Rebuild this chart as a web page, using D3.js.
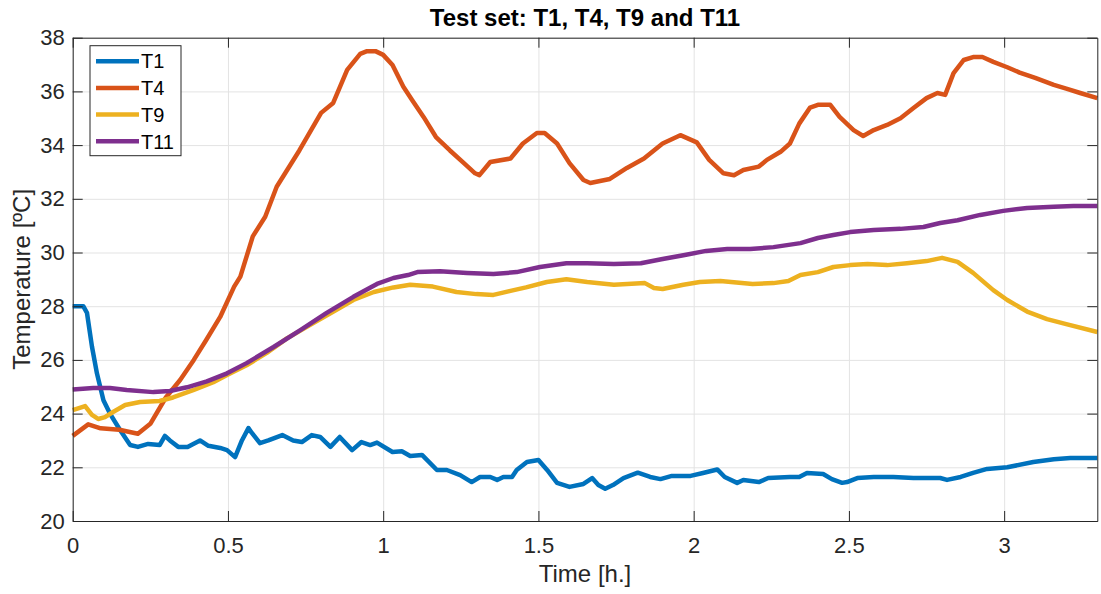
<!DOCTYPE html>
<html>
<head>
<meta charset="utf-8">
<script src="https://cdn.jsdelivr.net/npm/d3@7"></script>
<style>
  body { margin: 0; background: #fff; }
  svg { font-family: "Liberation Sans", Arial, sans-serif; }
  .grid line { stroke: #e3e3e3; stroke-width: 1; }
  .grid .domain { display: none; }
  .axis text { fill: #262626; font-size: 22px; }
  .axis line, .axis path { stroke: #262626; }
</style>
</head>
<body>
<div id="chart"></div>
<script>
// series: time [h.] and temperature [ºC]
var t1Time = [0,0.034,0.046,0.062,0.078,0.099,0.12,0.152,0.185,0.21,0.243,0.28,0.297,0.313,0.34,0.37,0.41,0.437,0.475,0.497,0.523,0.545,0.566,0.577,0.603,0.63,0.675,0.71,0.738,0.77,0.797,0.83,0.86,0.9,0.93,0.958,0.98,1.03,1.06,1.087,1.125,1.173,1.205,1.248,1.285,1.312,1.345,1.367,1.387,1.415,1.43,1.463,1.5,1.528,1.56,1.6,1.645,1.673,1.693,1.715,1.74,1.774,1.82,1.86,1.893,1.93,1.99,2.03,2.076,2.1,2.14,2.16,2.21,2.24,2.31,2.34,2.365,2.417,2.445,2.478,2.494,2.527,2.58,2.643,2.708,2.77,2.794,2.816,2.86,2.9,2.945,3.01,3.094,3.16,3.213,3.3];
var t1Temp = [28.0,28.0,27.75,26.5,25.5,24.5,24.0,23.4,22.83,22.76,22.87,22.83,23.17,23.0,22.76,22.76,23.0,22.8,22.72,22.64,22.38,23.0,23.46,23.28,22.9,23.0,23.2,23.0,22.94,23.2,23.13,22.76,23.13,22.64,22.94,22.83,22.92,22.57,22.6,22.42,22.46,21.9,21.9,21.71,21.45,21.64,21.64,21.53,21.64,21.64,21.9,22.2,22.27,21.9,21.42,21.27,21.38,21.6,21.34,21.2,21.34,21.6,21.8,21.64,21.56,21.68,21.68,21.79,21.92,21.64,21.42,21.53,21.45,21.6,21.64,21.64,21.79,21.75,21.56,21.42,21.45,21.6,21.64,21.64,21.6,21.6,21.6,21.53,21.64,21.79,21.94,22.0,22.2,22.3,22.35,22.35];

var t4Time = [0,0.05,0.09,0.15,0.21,0.25,0.3,0.346,0.39,0.43,0.475,0.52,0.54,0.58,0.62,0.657,0.73,0.8,0.839,0.884,0.926,0.948,0.975,1.0,1.03,1.065,1.093,1.13,1.17,1.215,1.26,1.296,1.31,1.345,1.41,1.45,1.495,1.52,1.56,1.6,1.645,1.667,1.73,1.785,1.84,1.9,1.957,2.01,2.05,2.096,2.13,2.16,2.21,2.236,2.28,2.31,2.34,2.375,2.4,2.44,2.47,2.515,2.546,2.58,2.623,2.666,2.708,2.75,2.785,2.81,2.837,2.87,2.9,2.93,2.965,3.01,3.05,3.1,3.16,3.2,3.245,3.3];
var t4Temp = [23.17,23.6,23.45,23.4,23.25,23.62,24.6,25.25,26.0,26.74,27.6,28.73,29.1,30.6,31.33,32.45,33.8,35.2,35.57,36.8,37.4,37.5,37.5,37.36,36.98,36.17,35.68,35.05,34.3,33.8,33.33,32.95,32.88,33.37,33.5,34.06,34.45,34.45,34.06,33.33,32.7,32.59,32.74,33.15,33.5,34.06,34.37,34.1,33.45,32.95,32.88,33.07,33.2,33.45,33.75,34.06,34.8,35.4,35.5,35.5,35.05,34.56,34.34,34.56,34.75,35.0,35.38,35.75,35.94,35.87,36.68,37.17,37.28,37.28,37.1,36.9,36.7,36.5,36.24,36.1,35.94,35.75];

var t9Time = [0,0.04,0.062,0.082,0.104,0.13,0.169,0.217,0.28,0.323,0.388,0.453,0.497,0.56,0.625,0.69,0.775,0.84,0.904,0.97,1.033,1.087,1.16,1.236,1.3,1.355,1.41,1.46,1.527,1.59,1.657,1.743,1.843,1.872,1.9,1.967,2.02,2.086,2.19,2.257,2.305,2.344,2.4,2.45,2.504,2.56,2.623,2.687,2.75,2.8,2.85,2.9,2.965,3.01,3.074,3.138,3.2,3.3];
var t9Temp = [24.13,24.28,23.95,23.8,23.87,24.06,24.32,24.43,24.47,24.6,24.87,25.17,25.44,25.8,26.26,26.8,27.37,27.8,28.23,28.53,28.7,28.8,28.73,28.53,28.45,28.42,28.57,28.7,28.9,29.0,28.9,28.8,28.86,28.68,28.64,28.8,28.9,28.94,28.83,28.86,28.94,29.16,29.27,29.46,29.53,29.57,29.53,29.6,29.68,29.8,29.65,29.24,28.6,28.23,27.8,27.52,27.33,27.04];

var t11Time = [0,0.066,0.12,0.174,0.26,0.313,0.368,0.432,0.497,0.56,0.647,0.732,0.818,0.904,0.98,1.033,1.08,1.11,1.183,1.27,1.355,1.43,1.505,1.59,1.657,1.743,1.83,1.9,1.967,2.04,2.108,2.182,2.257,2.344,2.4,2.45,2.504,2.58,2.666,2.74,2.794,2.85,2.923,2.997,3.074,3.16,3.223,3.3];
var t11Temp = [24.9,24.95,24.95,24.88,24.8,24.84,24.98,25.2,25.5,25.88,26.48,27.1,27.75,28.35,28.83,29.05,29.16,29.27,29.3,29.24,29.2,29.27,29.46,29.6,29.6,29.57,29.6,29.76,29.9,30.06,30.13,30.13,30.2,30.35,30.54,30.65,30.76,30.84,30.88,30.95,31.1,31.2,31.4,31.55,31.66,31.7,31.73,31.73];

var seriesNames = ["T1", "T4", "T9", "T11"];
var seriesColors = ["#0072BD", "#D95319", "#EDB120", "#7E2F8E"];
var xTicks = [0, 0.5, 1, 1.5, 2, 2.5, 3];
var yTicks = [20, 22, 24, 26, 28, 30, 32, 34, 36, 38];

var series = [
  {name: seriesNames[0], time: t1Time, temp: t1Temp},
  {name: seriesNames[1], time: t4Time, temp: t4Temp},
  {name: seriesNames[2], time: t9Time, temp: t9Temp},
  {name: seriesNames[3], time: t11Time, temp: t11Temp}
];

var width = 1101,
    height = 594;
var margin = {top: 37.7, right: 3.7, bottom: 73, left: 72.7},
    graphWidth = width - margin.left - margin.right,
    graphHeight = height - margin.top - margin.bottom;

var svg = d3.select("#chart").append("svg")
  .attr("width", width)
  .attr("height", height);

var g = svg.append("g")
  .attr("transform", "translate(" + margin.left + "," + margin.top + ")");

var xScale = d3.scaleLinear().domain([0, 3.3]).range([0, graphWidth]);
var yScale = d3.scaleLinear().domain([20, 38]).range([graphHeight, 0]);

// grid
g.append("g")
  .attr("class", "grid")
  .call(d3.axisBottom(xScale).tickValues(xTicks).tickSize(graphHeight).tickFormat(""));
g.append("g")
  .attr("class", "grid")
  .call(d3.axisLeft(yScale).tickValues(yTicks).tickSize(-graphWidth).tickFormat(""));

// lines
var line = d3.line()
  .x(function(d) { return xScale(d[0]); })
  .y(function(d) { return yScale(d[1]); });

g.selectAll(".series")
  .data(series)
  .enter().append("path")
  .attr("class", "series")
  .attr("fill", "none")
  .attr("stroke", function(d, i) { return seriesColors[i]; })
  .attr("stroke-width", 4.5)
  .attr("stroke-linejoin", "round")
  .attr("d", function(d) { return line(d.time.map(function(t, i) { return [t, d.temp[i]]; })); });

// axes (ticks pointing inward, box around)
g.append("g")
  .attr("class", "axis")
  .attr("transform", "translate(0," + graphHeight + ")")
  .call(d3.axisBottom(xScale).tickValues(xTicks).tickSizeInner(-10).tickSizeOuter(0).tickPadding(16).tickFormat(d3.format("")));
g.append("g")
  .attr("class", "axis")
  .call(d3.axisLeft(yScale).tickValues(yTicks).tickSizeInner(-10).tickSizeOuter(0).tickPadding(8));
g.append("g")
  .attr("class", "axis")
  .call(d3.axisTop(xScale).tickValues(xTicks).tickSizeInner(-10).tickSizeOuter(0).tickFormat(""));
g.append("g")
  .attr("class", "axis")
  .attr("transform", "translate(" + graphWidth + ",0)")
  .call(d3.axisRight(yScale).tickValues(yTicks).tickSizeInner(-10).tickSizeOuter(0).tickFormat(""));

// title and axis labels
svg.append("text")
  .attr("x", margin.left + graphWidth / 2)
  .attr("y", 26)
  .attr("text-anchor", "middle")
  .style("font-size", "24px")
  .style("font-weight", "bold")
  .style("fill", "#000")
  .text("Test set: T1, T4, T9 and T11");
svg.append("text")
  .attr("x", margin.left + graphWidth / 2)
  .attr("y", 582)
  .attr("text-anchor", "middle")
  .style("font-size", "24px")
  .style("fill", "#262626")
  .text("Time [h.]");
svg.append("text")
  .attr("transform", "translate(30," + (margin.top + graphHeight / 2) + "), rotate(-90)")
  .attr("text-anchor", "middle")
  .style("font-size", "24px")
  .style("fill", "#262626")
  .text("Temperature [ºC]");

// legend
var legend = svg.append("g").attr("transform", "translate(90,45.7)");
legend.append("rect")
  .attr("width", 91)
  .attr("height", 110)
  .attr("fill", "#fff")
  .attr("stroke", "#262626")
  .attr("stroke-width", 1);
var items = legend.selectAll(".item")
  .data(seriesNames)
  .enter().append("g")
  .attr("transform", function(d, i) { return "translate(0," + (15.5 + i * 26.7) + ")"; });
items.append("line")
  .attr("x1", 6).attr("x2", 49)
  .attr("stroke", function(d, i) { return seriesColors[i]; })
  .attr("stroke-width", 4.5);
items.append("text")
  .attr("x", 51)
  .attr("dy", "0.36em")
  .style("font-size", "20px")
  .style("fill", "#000")
  .text(function(d) { return d; });
</script>
</body>
</html>
